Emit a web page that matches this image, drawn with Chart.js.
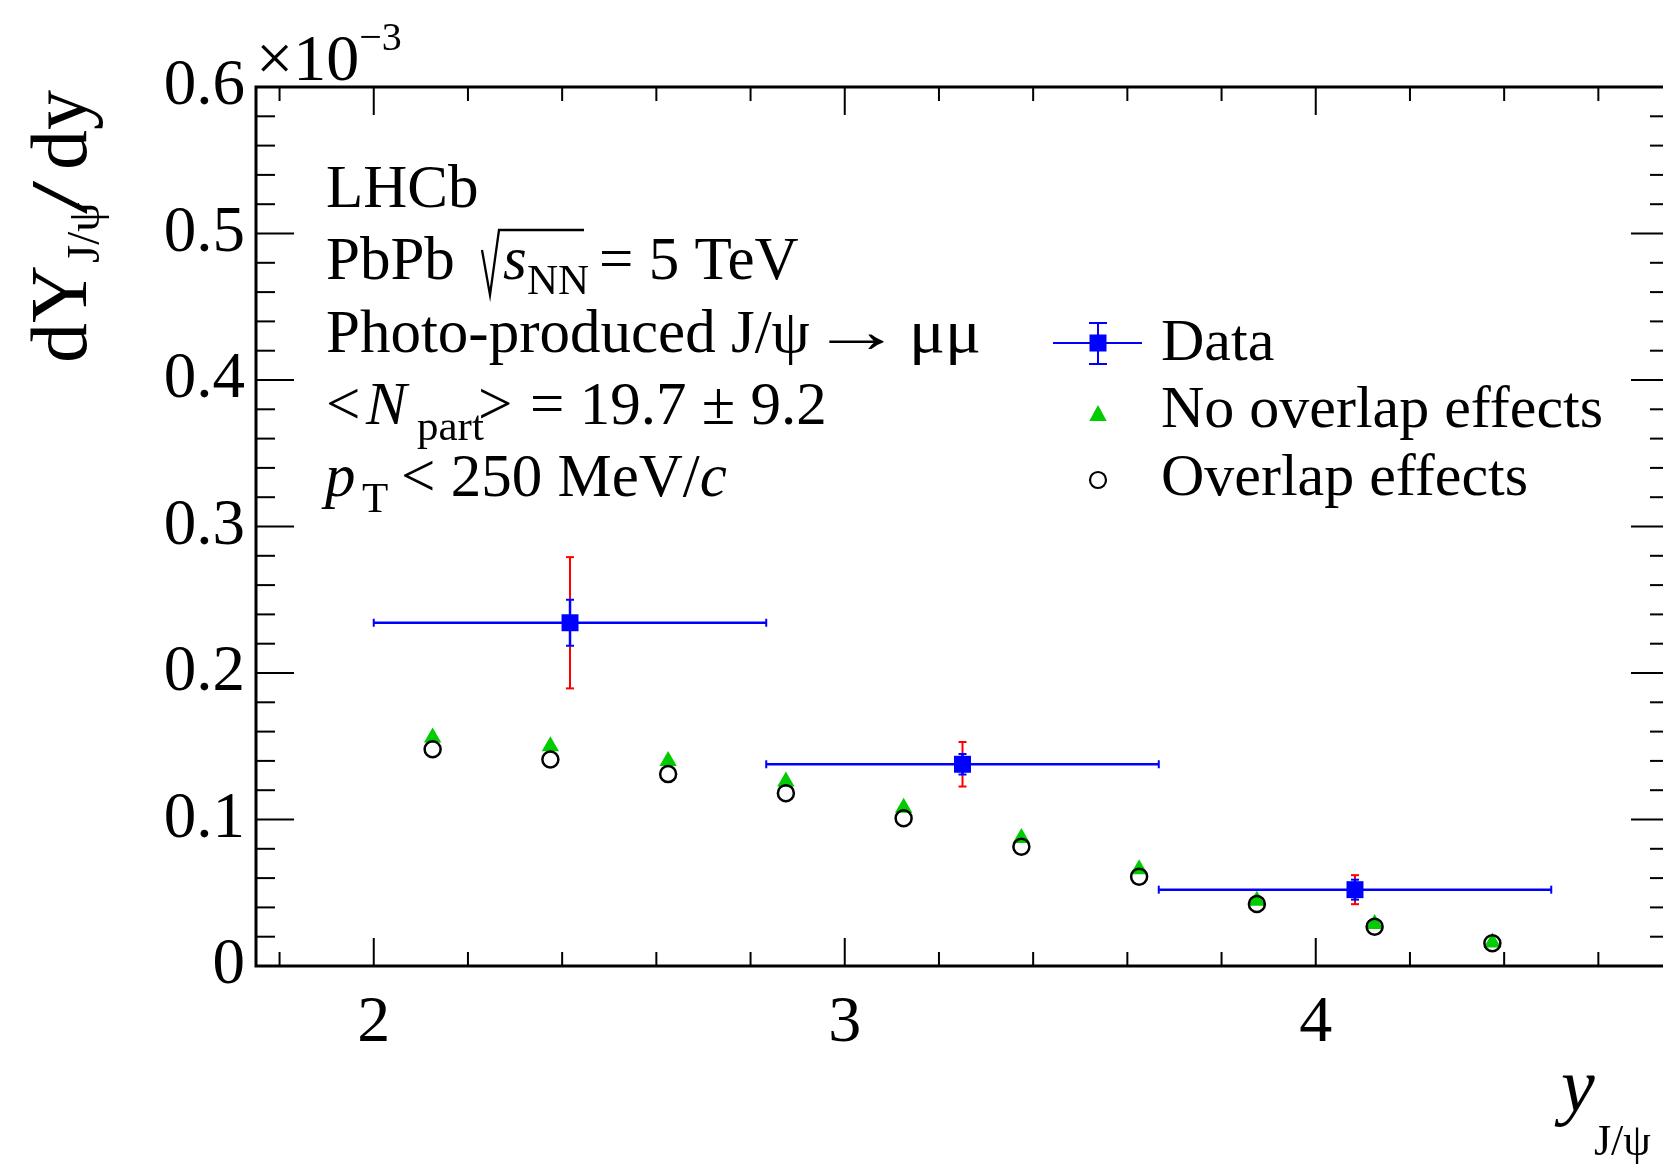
<!DOCTYPE html>
<html>
<head>
<meta charset="utf-8">
<script src="https://cdn.jsdelivr.net/npm/chart.js@4.4.1/dist/chart.umd.min.js"></script>
<style>
html, body { margin:0; padding:0; background:#ffffff; overflow:hidden; width:1663px; height:1165px; }
#wrap { position:absolute; left:0; top:0; width:1700px; height:1165px; }
canvas { display:block; }
</style>
</head>
<body>
<div id="wrap"><canvas id="c" width="1700" height="1165"></canvas></div>
<script>
// ---------------- data (units of 10^-3) ----------------
const xTickValues = [2, 3, 4];
const yTickValues = [0, 0.1, 0.2, 0.3, 0.4, 0.5, 0.6];
const yTickLabels = ['0', '0.1', '0.2', '0.3', '0.4', '0.5', '0.6'];

const modelX     = [2.125, 2.375, 2.625, 2.875, 3.125, 3.375, 3.625, 3.875, 4.125, 4.375];
const noOverlapY = [0.156, 0.150, 0.140, 0.126, 0.108, 0.0874, 0.066, 0.0446, 0.0287, 0.0160];
const overlapY   = [0.148, 0.141, 0.131, 0.118, 0.1008, 0.0814, 0.061, 0.0423, 0.0268, 0.0155];

const dataX       = [2.4167, 3.25, 4.0833];
const dataXLow    = [2.0, 2.8333, 3.6667];
const dataXHigh   = [2.8333, 3.6667, 4.5];
const dataY       = [0.2343, 0.1377, 0.0521];
const dataStatErr = [0.0157, 0.0070, 0.0068];
const dataTotErr  = [0.0448, 0.0152, 0.0099];

const seriesLabels = ['Data', 'No overlap effects', 'Overlap effects'];

// ---------------- styles ----------------
const SERIF = "'Liberation Serif','Times New Roman',serif";
const GREEN = '#00cc00', BLUE = '#0000ff', RED = '#ff0000';

function fnt(size, italic) { return (italic ? 'italic ' : '') + size + 'px ' + SERIF; }
function txt(c, s, x, y, size, italic) {
  c.font = fnt(size, italic);
  c.fillText(s, x, y);
  return x + c.measureText(s).width;
}
function txtX(c, s, x, y, size, sx, italic) {
  c.save();
  c.font = fnt(size, italic);
  c.translate(x, y);
  c.scale(sx, 1);
  c.fillText(s, 0, 0);
  const w = c.measureText(s).width * sx;
  c.restore();
  return x + w;
}
function seg(c, x1, y1, x2, y2) { c.beginPath(); c.moveTo(x1, y1); c.lineTo(x2, y2); c.stroke(); }

const errorBars = {
  id: 'errorBars',
  beforeDatasetDraw(chart, args) {
    if (chart.data.datasets[args.index].label !== 'Data') return;
    const c = chart.ctx, xs = chart.scales.x, ys = chart.scales.y;
    c.save();
    c.lineCap = 'butt';
    for (let i = 0; i < dataX.length; i++) {
      const px = xs.getPixelForValue(dataX[i]);
      const py = ys.getPixelForValue(dataY[i]);
      const t1 = ys.getPixelForValue(dataY[i] + dataTotErr[i]);
      const t2 = ys.getPixelForValue(dataY[i] - dataTotErr[i]);
      c.strokeStyle = RED; c.lineWidth = 2;
      seg(c, px, t1, px, t2);
      seg(c, px - 4, t1, px + 4, t1);
      seg(c, px - 4, t2, px + 4, t2);
      const s1 = ys.getPixelForValue(dataY[i] + dataStatErr[i]);
      const s2 = ys.getPixelForValue(dataY[i] - dataStatErr[i]);
      c.strokeStyle = BLUE; c.lineWidth = 2.5;
      seg(c, px, s1, px, s2);
      c.lineWidth = 2;
      seg(c, px - 4, s1, px + 4, s1);
      seg(c, px - 4, s2, px + 4, s2);
      const xl = xs.getPixelForValue(dataXLow[i]);
      const xr = xs.getPixelForValue(dataXHigh[i]);
      c.lineWidth = 2.5;
      seg(c, xl, py, xr, py);
      c.lineWidth = 2;
      seg(c, xl, py - 4, xl, py + 4);
      seg(c, xr, py - 4, xr, py + 4);
    }
    c.restore();
  }
};

const frame = {
  id: 'frame',
  afterDatasetsDraw(chart) {
    const c = chart.ctx, xs = chart.scales.x, ys = chart.scales.y;
    const { left, right, top, bottom } = chart.chartArea;
    c.save();
    c.strokeStyle = '#000'; c.lineWidth = 2;
    for (let k = 0; k <= 30; k++) {
      const py = ys.getPixelForValue(k * 0.02);
      const len = (k % 5 === 0) ? 38 : 19;
      seg(c, left, py, left + len, py);
      seg(c, right - len, py, right, py);
    }
    for (let k = 0; k <= 14; k++) {
      const px = xs.getPixelForValue(1.8 + k * 0.2);
      const len = ((k - 1) % 5 === 0) ? 28 : 14;
      seg(c, px, bottom, px, bottom - len);
      seg(c, px, top, px, top + len);
    }
    c.lineWidth = 3;
    c.strokeRect(left, top, right - left, bottom - top);
    c.restore();
  }
};

const annotations = {
  id: 'annotations',
  afterDraw(chart) {
    const c = chart.ctx;
    c.save();
    c.fillStyle = '#000'; c.strokeStyle = '#000';
    c.textAlign = 'left'; c.textBaseline = 'alphabetic';
    // exponent
    let x = txt(c, '\u00d710', 256, 80, 66);
    txt(c, '\u22123', x, 50, 40);

    // info block
    const F = 61, SF = 43;
    const B = [207, 279, 351.5, 423.7, 496];
    txt(c, 'LHCb', 326, B[0], F);
    txt(c, 'PbPb', 326, B[1], F);
    c.lineWidth = 2.3; c.lineJoin = 'miter';
    c.beginPath(); c.moveTo(482, B[1] - 29); c.lineTo(490, B[1] + 16); c.lineTo(499, B[1] - 49); c.lineTo(584, B[1] - 49); c.stroke();
    txt(c, 's', 503, B[1], F, true);
    txt(c, 'NN', 527, B[1] + 15, SF);
    txt(c, '= 5 TeV', 599, B[1], F);
    txt(c, 'Photo-produced J/\u03c8', 326, B[2], F);
    txtX(c, '\u2192', 811, B[2], F, 1.5);
    txtX(c, '\u03bc\u03bc', 909, B[2], F, 1.1);
    txt(c, '<', 326, B[3], F);
    txt(c, 'N', 366, B[3], F, true);
    txt(c, 'part', 417, B[3] + 16, SF);
    txt(c, '>', 478, B[3], F);
    txt(c, '= 19.7 \u00b1 9.2', 530, B[3], F);
    txt(c, 'p', 325, B[4], F, true);
    txt(c, 'T', 362, B[4] + 16, SF);
    x = txt(c, '< 250 MeV/', 401, B[4], F);
    txt(c, 'c', x, B[4], F, true);

    // legend
    const LX = 1098;
    c.strokeStyle = BLUE; c.lineWidth = 2;
    seg(c, 1053, 343, 1142, 343);
    seg(c, LX, 323, LX, 364);
    seg(c, LX - 9, 323, LX + 9, 323);
    seg(c, LX - 9, 364, LX + 9, 364);
    c.fillStyle = BLUE; c.fillRect(LX - 8.5, 334.5, 17, 17);
    c.fillStyle = GREEN;
    c.beginPath(); c.moveTo(LX, 405); c.lineTo(LX + 8.7, 421); c.lineTo(LX - 8.7, 421); c.closePath(); c.fill();
    c.strokeStyle = '#000'; c.lineWidth = 2.2;
    c.beginPath(); c.arc(LX, 480, 8, 0, Math.PI * 2); c.stroke();
    c.fillStyle = '#000';
    txt(c, seriesLabels[0], 1161, 360, 60);
    txt(c, seriesLabels[1], 1161, 427, 60);
    txt(c, seriesLabels[2], 1161, 495, 60);

    // x title
    txt(c, 'y', 1561, 1111, 76, true);
    txt(c, 'J/\u03c8', 1594, 1155, 44);

    // y title (rotated)
    c.save();
    c.translate(86, 363);
    c.rotate(-Math.PI / 2);
    txt(c, 'dY', 0, 0, 80);
    txt(c, 'J/\u03c8', 100, 13, 47);
    txtX(c, '/', 149, 0, 80, 1.5);
    txt(c, 'dy', 193, 0, 80);
    c.restore();

    c.restore();
  }
};

new Chart(document.getElementById('c').getContext('2d'), {
  type: 'scatter',
  data: {
    datasets: [
      {
        label: 'No overlap effects',
        data: modelX.map((v, i) => ({ x: v, y: noOverlapY[i] })),
        pointStyle: 'triangle', pointRadius: 10, backgroundColor: GREEN, borderColor: GREEN, borderWidth: 0,
        order: 3
      },
      {
        label: 'Overlap effects',
        data: modelX.map((v, i) => ({ x: v, y: overlapY[i] })),
        pointStyle: 'circle', pointRadius: 8, backgroundColor: 'rgba(0,0,0,0)', borderColor: '#000', borderWidth: 2.5,
        order: 2
      },
      {
        label: 'Data',
        data: dataX.map((v, i) => ({ x: v, y: dataY[i] })),
        pointStyle: 'rect', pointRadius: 12, backgroundColor: BLUE, borderColor: BLUE, borderWidth: 0,
        order: 1
      }
    ]
  },
  options: {
    responsive: false,
    animation: false,
    events: [],
    layout: { padding: { top: 87, right: 31, left: 0, bottom: 0 } },
    plugins: { legend: { display: false }, tooltip: { enabled: false }, title: { display: false } },
    scales: {
      x: {
        type: 'linear', min: 1.75, max: 4.75,
        grid: { display: false, drawTicks: false },
        border: { display: false },
        ticks: {
          color: '#000', font: { family: SERIF, size: 66 }, padding: 18,
          maxRotation: 0, autoSkip: false,
          callback: (v) => String(v)
        },
        afterBuildTicks: (s) => { s.ticks = xTickValues.map(v => ({ value: v })); },
        afterFit: (s) => { s.height = 199; }
      },
      y: {
        type: 'linear', min: 0, max: 0.6,
        grid: { display: false, drawTicks: false },
        border: { display: false },
        ticks: {
          color: '#000', font: { family: SERIF, size: 65 }, padding: 11, autoSkip: false,
          callback: (v) => { const i = yTickValues.findIndex(t => Math.abs(t - v) < 1e-9); return i >= 0 ? yTickLabels[i] : ''; }
        },
        afterBuildTicks: (s) => { s.ticks = yTickValues.map(v => ({ value: v })); },
        afterFit: (s) => { s.width = 256; }
      }
    }
  },
  plugins: [errorBars, frame, annotations]
});
</script>
</body>
</html>
